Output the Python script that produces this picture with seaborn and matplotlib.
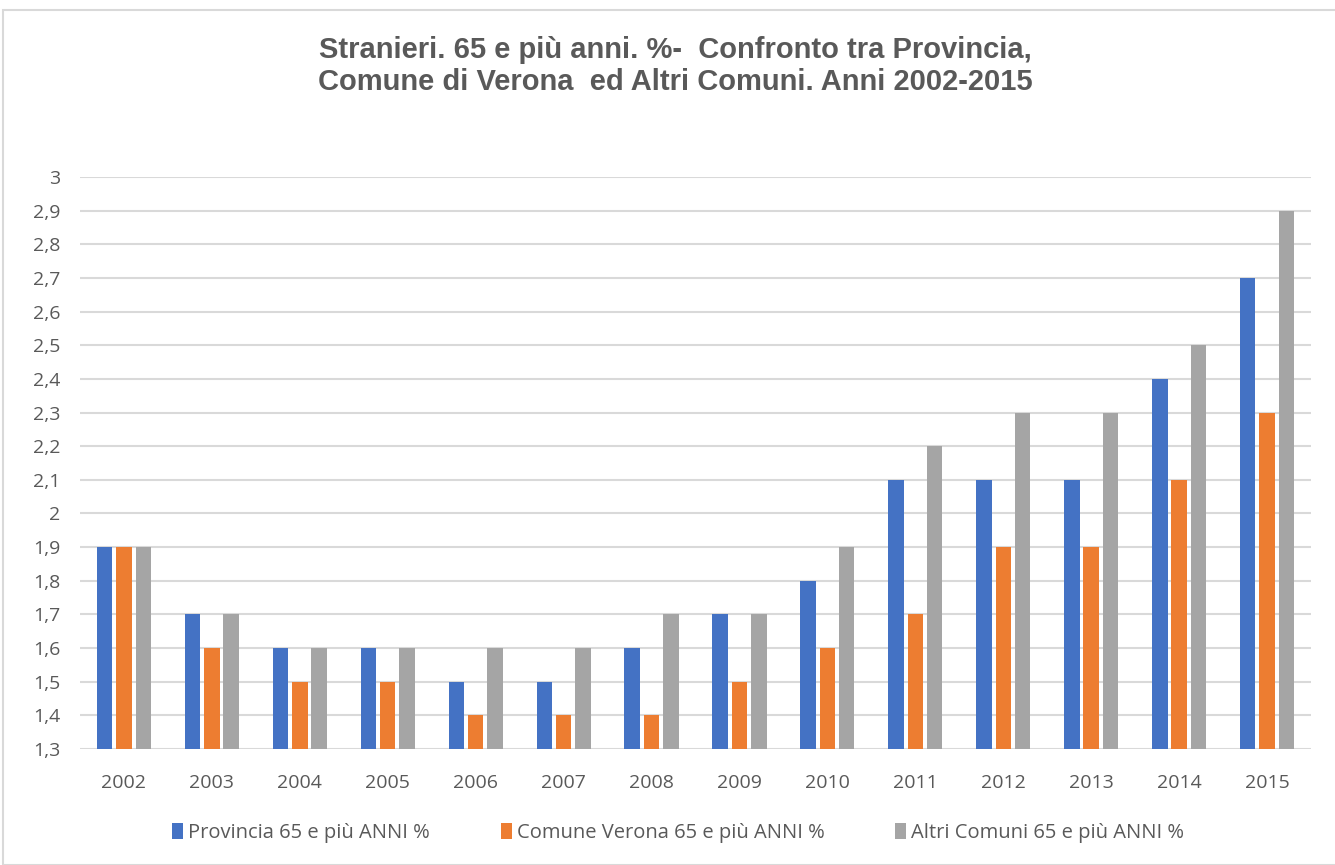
import matplotlib.pyplot as plt
import numpy as np
import seaborn as sns
import pandas as pd
from matplotlib.patches import Rectangle
from matplotlib.ticker import FuncFormatter


anni = ['2002', '2003', '2004', '2005', '2006', '2007', '2008',
        '2009', '2010', '2011', '2012', '2013', '2014', '2015']
provincia = [1.9, 1.7, 1.6, 1.6, 1.5, 1.5, 1.6, 1.7, 1.8, 2.1, 2.1, 2.1, 2.4, 2.7]
comune = [1.9, 1.6, 1.5, 1.5, 1.4, 1.4, 1.4, 1.5, 1.6, 1.7, 1.9, 1.9, 2.1, 2.3]
altri = [1.9, 1.7, 1.6, 1.6, 1.6, 1.6, 1.7, 1.7, 1.9, 2.2, 2.3, 2.3, 2.5, 2.9]
serie = ['Provincia 65 e più ANNI %', 'Comune Verona 65 e più ANNI %',
         'Altri Comuni 65 e più ANNI %']
colori = ['#4472C4', '#ED7D31', '#A5A5A5']

# long format for seaborn
df = pd.DataFrame({
    'Anno': anni * 3,
    'Valore': provincia + comune + altri,
    'Serie': [serie[0]] * len(anni) + [serie[1]] * len(anni) + [serie[2]] * len(anni),
})

sns.set_style('white')
plt.rcParams['font.family'] = ['Open Sans', 'DejaVu Sans']

fig = plt.figure(figsize=(13.35, 8.65), dpi=100)
ax = fig.add_axes([80 / 1335, 1 - 749 / 865, 1231 / 1335, 572 / 865])

sns.barplot(data=df, x='Anno', y='Valore', hue='Serie', palette=colori,
            saturation=1, width=0.66, gap=0.2, ax=ax, zorder=3,
            linewidth=0, legend=True)

ax.set_ylim(1.3, 3.0)
ax.set_xlim(-0.5, 13.5)
ax.set_yticks(np.arange(1.3, 3.01, 0.1))
ax.yaxis.set_major_formatter(FuncFormatter(
    lambda v, p: ('%.1f' % v).rstrip('0').rstrip('.').replace('.', ',')))
ax.yaxis.grid(True, color='#D9D9D9', linewidth=1.5, zorder=0)
ax.set_axisbelow(True)
for s in ax.spines.values():
    s.set_visible(False)
ax.set_xlabel('')
ax.set_ylabel('')
ax.tick_params(axis='both', length=0, labelsize=14, colors='#595959')
ax.tick_params(axis='x', pad=18)
ax.tick_params(axis='y', pad=14)

handles, labels = ax.get_legend_handles_labels()
ax.get_legend().remove()
fig.legend(handles, labels, loc='center', bbox_to_anchor=(0.508, 1 - 833 / 865),
           ncol=3, frameon=False, fontsize=14.5, handlelength=0.55,
           handleheight=0.8, handletextpad=0.25, columnspacing=3.5,
           labelcolor='#595959')

fig.text(0.506, 1 - 66 / 865,
         'Stranieri. 65 e più anni. %-  Confronto tra Provincia,\nComune di Verona  ed Altri Comuni. Anni 2002-2015',
         ha='center', va='center', fontsize=21, fontweight='bold',
         family=['Liberation Sans', 'DejaVu Sans'],
         color='#595959', linespacing=1.2)

fig.patches.append(Rectangle((3 / 1335, 0), 1.0, 1 - 10 / 865,
                             transform=fig.transFigure, fill=False,
                             edgecolor='#D9D9D9', linewidth=1.5))

fig.savefig('out.png', dpi=100)
